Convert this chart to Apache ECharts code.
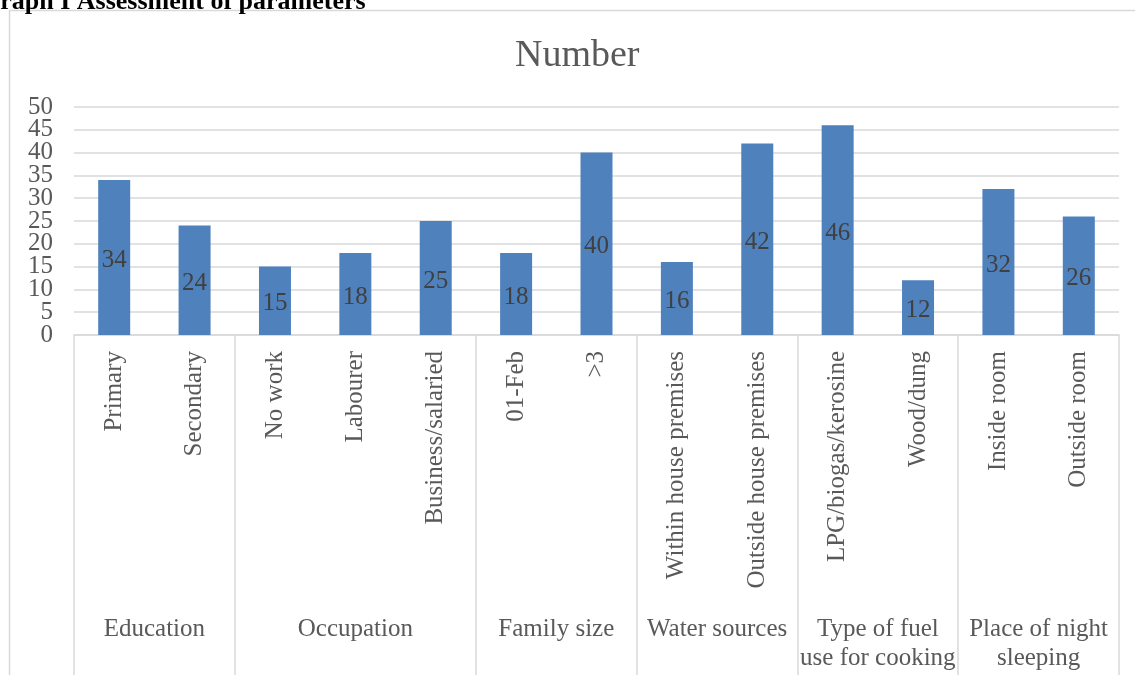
<!DOCTYPE html>
<html>
<head>
<meta charset="utf-8">
<script src="https://cdn.jsdelivr.net/npm/echarts@6/dist/echarts.min.js"></script>
<style>
html, body { margin: 0; padding: 0; background: #fff; }
#chart { width: 1135px; height: 675px; }
</style>
</head>
<body>
<div id="chart"></div>
<script>
// data
const categories = ['Primary', 'Secondary', 'No work', 'Labourer', 'Business/salaried', '01-Feb', '>3',
    'Within house premises', 'Outside house premises', 'LPG/biogas/kerosine', 'Wood/dung', 'Inside room', 'Outside room'];
const values = [34, 24, 15, 18, 25, 18, 40, 16, 42, 46, 12, 32, 26];
const groupNames = ['Education', 'Occupation', 'Family size', 'Water sources',
    'Type of fuel\nuse for cooking', 'Place of night\nsleeping'];
const groupSizes = [2, 3, 2, 2, 2, 2];
const yMin = 0, yMax = 50, yStep = 5;

// group axis: every category split in two half-slots, so group centres and
// group borders both land on points of a boundaryGap:false category axis
const groupSlots = new Array(categories.length * 2 + 1).fill('');
const borderIdx = [0];
let start = 0;
groupSizes.forEach(function (n, i) {
    groupSlots[start * 2 + n] = groupNames[i];
    start += n;
    borderIdx.push(start * 2);
});

const font = 'Liberation Serif';
const grey = '#595959';
const lineGrey = '#d9d9d9';

function yAxisBase(labelFmt, showEnds) {
    return {
        type: 'value',
        min: yMin,
        max: yMax,
        interval: yStep,
        axisLine: { show: false },
        axisTick: { show: false },
        axisLabel: {
            margin: 21,
            showMinLabel: showEnds,
            showMaxLabel: showEnds,
            formatter: labelFmt,
            fontFamily: font,
            fontSize: 25,
            color: grey
        }
    };
}

// labels 5..45 on one axis, the two end labels on a twin axis
// (font is taller than the tick step, so one axis alone drops some)
const yInner = yAxisBase(function (v) { return String(v); }, false);
yInner.splitLine = { lineStyle: { color: lineGrey, width: 1.5 } };
const yEnds = yAxisBase(function (v) { return (v === yMin || v === yMax) ? String(v) : ''; }, true);
yEnds.splitLine = { show: false };

const chart = echarts.init(document.getElementById('chart'));
chart.setOption({
    animation: false,
    title: {
        text: 'Number',
        left: 515,
        top: 37,
        padding: 0,
        textStyle: { fontFamily: font, fontSize: 38, fontWeight: 'normal', color: grey }
    },
    graphic: [
        {
            type: 'rect',
            shape: { x: 9.5, y: 10.5, width: 1200, height: 800 },
            style: { fill: 'none', stroke: lineGrey, lineWidth: 1.5 },
            silent: true
        },
        {
            type: 'text',
            left: -20,
            top: -11,
            style: {
                text: 'Graph I Assessment of parameters',
                fontFamily: 'Liberation Serif',
                fontSize: 26,
                fontWeight: 'bold',
                fill: '#000'
            }
        }
    ],
    grid: { left: 74, right: 16, top: 107, bottom: 340 },
    xAxis: [
        {
            type: 'category',
            data: categories,
            axisLine: { show: true, lineStyle: { color: lineGrey, width: 1.5 } },
            axisTick: { show: false },
            axisLabel: {
                interval: 0,
                rotate: 90,
                margin: 16,
                fontFamily: font,
                fontSize: 25,
                color: grey
            }
        },
        {
            type: 'category',
            position: 'bottom',
            boundaryGap: false,
            data: groupSlots,
            axisLine: { show: false },
            axisTick: {
                show: true,
                length: 345,
                inside: false,
                interval: function (idx) { return borderIdx.indexOf(idx) >= 0; },
                lineStyle: { color: lineGrey, width: 1.5 }
            },
            axisLabel: {
                interval: 0,
                margin: 280,
                fontFamily: font,
                fontSize: 25,
                lineHeight: 29,
                color: grey,
                verticalAlign: 'top'
            }
        }
    ],
    yAxis: [yInner, Object.assign(yEnds, { position: 'left' })],
    series: [
        {
            name: 'Number',
            type: 'bar',
            xAxisIndex: 0,
            yAxisIndex: 0,
            barWidth: 32,
            data: values,
            itemStyle: { color: '#4f81bd' },
            label: {
                show: true,
                position: 'inside',
                offset: [0, 3],
                fontFamily: font,
                fontSize: 25,
                color: '#404040'
            }
        }
    ]
});
</script>
</body>
</html>
